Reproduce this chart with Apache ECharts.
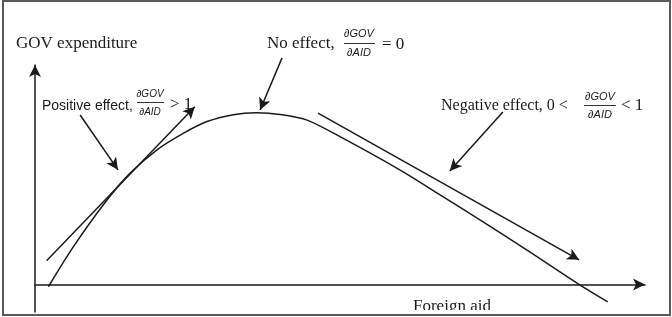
<!DOCTYPE html>
<html><head><meta charset="utf-8">
<script src="https://cdn.jsdelivr.net/npm/echarts@6/dist/echarts.min.js"></script>
<style>html,body{margin:0;padding:0;background:#fff}#c{width:672px;height:317px}</style>
</head><body><div id="c"></div>
<script>
// Conceptual curve: foreign aid (x) vs GOV expenditure (y), arbitrary units
const curveX = [2.2, 6.3, 11.8, 15.6, 20.0, 24.3, 28.2, 32.5, 36.3, 40.2, 44.5, 50.0, 59.8, 66.4, 73.0, 81.1, 89.3, 93.9];
const curveY = [-0.8, 13.8, 30.8, 40.6, 49.1, 55.1, 59.4, 61.9, 62.6, 62.0, 60.0, 53.9, 41.8, 32.7, 23.5, 11.9, -0.1, -6.3];
// tangent lines [x1, y1, x2, y2]
const positiveTangent = [1.9, 8.7, 26.2, 64.8];
const negativeTangent = [46.4, 62.5, 89.2, 9.0];
// pointer arrows [x1, y1, x2, y2]
const positivePointer = [7.4, 61.8, 13.6, 41.8];
const noEffectPointer = [40.5, 82.6, 36.9, 63.6];
const negativePointer = [76.7, 62.9, 68.0, 41.4];
// texts
const yAxisTitle = 'GOV expenditure';
const xAxisTitle = 'Foreign aid';
const positiveLabel = 'Positive effect,';
const noEffectLabel = 'No effect,';
const negativeLabel = 'Negative effect, 0 <';
const fracTop = '∂GOV', fracBottom = '∂AID';

const ink = '#1a1a1a';
const serif = '"Liberation Serif", "Times New Roman", serif';
const sans = '"Liberation Sans", Arial, sans-serif';

const chart = echarts.init(document.getElementById('c'));

function seg(a) { return [{coord: [a[0], a[1]]}, {coord: [a[2], a[3]]}]; }
function txt(text, x, y, font, align) {
  return {type: 'text', z: 100, style: {text: text, x: x, y: y, font: font, fill: ink, textAlign: align || 'left', textVerticalAlign: 'middle'}};
}
function hbar(x1, x2, y) {
  return {type: 'line', z: 100, shape: {x1: x1, y1: y, x2: x2, y2: y}, style: {stroke: '#333', lineWidth: 1}};
}
const hiddenAxis = {axisLine: {show: false}, axisTick: {show: false}, axisLabel: {show: false}, splitLine: {show: false}};

chart.setOption({
  animation: false,
  backgroundColor: '#fff',
  grid: [
    {left: 35, right: 27, top: 65, bottom: 5},
    // same scale as grid 0, extended upward for the annotation arrows
    {left: 35, right: 27, top: 51.28, bottom: 5}
  ],
  xAxis: [{
    type: 'value', min: 0, max: 100, gridIndex: 0,
    axisLine: {show: true, onZero: true, symbol: ['none', 'arrow'], symbolSize: [9, 12], lineStyle: {color: ink, width: 1.5}},
    axisTick: {show: false}, axisLabel: {show: false}, splitLine: {show: false}
  }, Object.assign({type: 'value', min: 0, max: 100, gridIndex: 1}, hiddenAxis)],
  yAxis: [{
    type: 'value', min: -10, max: 80, gridIndex: 0,
    axisLine: {show: true, onZero: false, symbol: ['none', 'arrow'], symbolSize: [9, 12], lineStyle: {color: ink, width: 1.5}},
    axisTick: {show: false}, axisLabel: {show: false}, splitLine: {show: false}
  }, Object.assign({type: 'value', min: -10, max: 85, gridIndex: 1}, hiddenAxis)],
  series: [{
    type: 'line',
    xAxisIndex: 0, yAxisIndex: 0,
    data: curveX.map((x, i) => [x, curveY[i]]),
    smooth: 0.3,
    symbol: 'none',
    clip: false,
    lineStyle: {color: ink, width: 1.5}
  }, {
    type: 'line',
    xAxisIndex: 1, yAxisIndex: 1,
    data: [],
    symbol: 'none',
    markLine: {
      silent: true,
      symbol: ['none', 'arrow'],
      symbolSize: [9, 12],
      label: {show: false},
      lineStyle: {color: ink, width: 1.5, type: 'solid'},
      data: [seg(positiveTangent), seg(negativeTangent), seg(positivePointer), seg(noEffectPointer), seg(negativePointer)]
    }
  }],
  graphic: [
    txt(yAxisTitle, 16, 44, '17px ' + serif),
    txt(noEffectLabel, 267, 44, '17px ' + serif),
    txt(fracTop, 359, 34, 'italic 11px ' + sans, 'center'),
    hbar(344, 375, 43.5),
    txt(fracBottom, 359, 53, 'italic 11px ' + sans, 'center'),
    txt('= 0', 382, 45, '17px ' + serif),
    txt(positiveLabel, 42, 106, '14px ' + sans),
    txt(fracTop, 150, 94, 'italic 10px ' + sans, 'center'),
    hbar(137, 164, 102.5),
    txt(fracBottom, 150, 112, 'italic 10px ' + sans, 'center'),
    txt('> 1', 170, 105, '17px ' + serif),
    txt(negativeLabel, 441, 106, '16px ' + serif),
    txt(fracTop, 600, 97, 'italic 11px ' + sans, 'center'),
    hbar(584, 616, 105.5),
    txt(fracBottom, 600, 115, 'italic 11px ' + sans, 'center'),
    txt('< 1', 621, 106, '17px ' + serif),
    txt(xAxisTitle, 413, 307, '17px ' + serif),
    {type: 'rect', z: 110, shape: {x: 380, y: 310, width: 200, height: 4}, style: {fill: '#fff'}},
    {type: 'rect', z: 120, shape: {x: 3, y: 1, width: 667, height: 314}, style: {fill: 'none', stroke: '#5a5a5a', lineWidth: 2}}
  ]
});
</script></body></html>
